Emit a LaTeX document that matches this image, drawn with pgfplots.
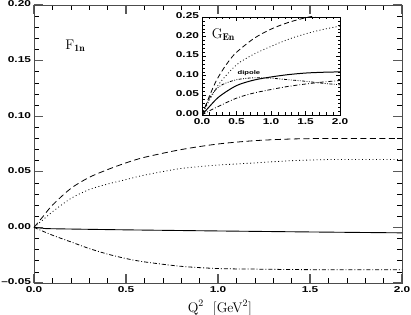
\documentclass[border=0pt]{standalone}
\usepackage{pgfplots}
\pgfplotsset{compat=1.18}
\usepackage{fontspec}
\newfontfamily\tickfont[FakeStretch=1.4]{Liberation Sans}
\begin{document}
\begin{tikzpicture}
\useasboundingbox (-34bp,-32bp) rectangle (377bp,283bp);
\begin{axis}[
  at={(0,0)}, anchor=south west,
  scale only axis, width=368bp, height=278bp,
  xmin=0, xmax=2, ymin=-0.05, ymax=0.2,
  xtick={0,0.5,...,2}, ytick={-0.05,0,...,0.2},
  minor x tick num=4, minor y tick num=4,
  tick align=inside, tick pos=both,
  major tick length=9bp, minor tick length=5bp,
  every major tick/.style={gray!70!black, line width=1.2pt},
  every minor tick/.style={black, line width=0.6pt},
  axis line style={line width=0.9pt, gray!60!black},
  ticklabel style={font=\tickfont\bfseries\fontsize{8.5}{9}\selectfont},
  yticklabel style={xshift=0.5bp, yshift=1bp},
  xticklabel style={yshift=-0.5bp},
  /pgf/number format/assume math mode=true,
  xticklabel style={/pgf/number format/.cd, fixed, fixed zerofill, precision=1},
  yticklabel style={/pgf/number format/.cd, fixed, fixed zerofill, precision=2},
  xticklabel={\pgfmathprintnumber{\tick}},
  yticklabel={\ifdim\tick pt<0pt \textendash\pgfmathparse{abs(\tick)}\pgfmathprintnumber{\pgfmathresult}\else\pgfmathprintnumber{\tick}\fi},
  xlabel={\fontsize{14}{15}\selectfont Q$^2$~~[GeV$^2$]},
  xlabel style={at={(axis description cs:0.505,0)}, anchor=base, yshift=-29bp},
  clip=true,
]
\addplot[black, line width=0.8pt, dash pattern=on 6bp off 3.5bp, smooth] coordinates {
(0,0) (0.05,0.010) (0.1,0.020) (0.2,0.035) (0.3,0.045) (0.4,0.052) (0.5,0.058) (0.6,0.063) (0.8,0.070) (1.0,0.075) (1.2,0.078) (1.4,0.0795) (1.6,0.080) (1.8,0.080) (2.0,0.080)};
\addplot[black, line width=0.8pt, dash pattern=on 0.9bp off 2.6bp, smooth] coordinates {
(0,0) (0.05,0.007) (0.1,0.014) (0.2,0.026) (0.3,0.034) (0.4,0.039) (0.5,0.043) (0.6,0.047) (0.8,0.053) (1.0,0.056) (1.2,0.058) (1.4,0.060) (1.6,0.061) (1.8,0.061) (2.0,0.061)};
\addplot[black, line width=0.9pt, smooth] coordinates {
(0,0) (0.05,-0.0008) (0.1,-0.0012) (0.5,-0.0022) (1.0,-0.0032) (1.5,-0.0041) (2.0,-0.0049)};
\addplot[black, line width=0.8pt, dash pattern=on 4bp off 2bp on 0.9bp off 2bp, smooth] coordinates {
(0,0) (0.1,-0.007) (0.2,-0.013) (0.3,-0.019) (0.4,-0.024) (0.5,-0.028) (0.6,-0.031) (0.8,-0.035) (1.0,-0.037) (1.2,-0.0375) (1.5,-0.038) (2.0,-0.038)};
\node[anchor=base west, inner sep=0pt] at (axis cs:0.17,0.160) {\fontsize{14}{15}\selectfont F$_{\mathbf{1n}}$};
\end{axis}
\begin{axis}[
  at={(168bp,168bp)}, anchor=south west,
  scale only axis, width=138bp, height=98bp,
  xmin=0, xmax=2, ymin=0, ymax=0.25,
  xtick={0,0.5,...,2}, ytick={0,0.05,...,0.25},
  minor x tick num=4, minor y tick num=4,
  tick align=inside, tick pos=both,
  major tick length=4bp, minor tick length=2.5bp,
  every major tick/.style={black, line width=0.6pt},
  every minor tick/.style={black, line width=0.5pt},
  axis line style={line width=0.9pt, black},
  axis background/.style={fill=white},
  ticklabel style={font=\tickfont\bfseries\fontsize{8.5}{9}\selectfont},
  yticklabel style={xshift=0.5bp, yshift=1.5bp},
  xticklabel style={yshift=-0.5bp},
  /pgf/number format/assume math mode=true,
  xticklabel style={/pgf/number format/.cd, fixed, fixed zerofill, precision=1},
  yticklabel style={/pgf/number format/.cd, fixed, fixed zerofill, precision=2},
  xticklabel={\pgfmathprintnumber{\tick}},
  yticklabel={\pgfmathprintnumber{\tick}},
  clip=true,
]
\addplot[black, line width=0.8pt, dash pattern=on 5bp off 3bp, smooth] coordinates {
(0,0) (0.1,0.045) (0.2,0.085) (0.3,0.115) (0.4,0.14) (0.5,0.16) (0.75,0.195) (1.0,0.219) (1.25,0.236) (1.5,0.248) (1.75,0.257) (2.0,0.263)};
\addplot[black, line width=0.8pt, dash pattern=on 0.9bp off 2.4bp, smooth] coordinates {
(0,0) (0.1,0.035) (0.25,0.08) (0.5,0.128) (0.75,0.155) (1.0,0.175) (1.25,0.193) (1.5,0.207) (1.75,0.218) (2.0,0.227)};
\addplot[black, line width=1pt, smooth] coordinates {
(0,0) (0.1,0.02) (0.25,0.047) (0.5,0.075) (0.75,0.089) (1.0,0.097) (1.25,0.103) (1.5,0.107) (1.75,0.109) (2.0,0.110)};
\addplot[black, line width=0.8pt, dash pattern=on 3bp off 1.5bp on 0.8bp off 1.5bp on 0.8bp off 1.5bp, smooth] coordinates {
(0,0) (0.1,0.04) (0.2,0.065) (0.3,0.078) (0.5,0.09) (0.75,0.095) (1.0,0.094) (1.25,0.09) (1.5,0.086) (1.75,0.081) (2.0,0.077)};
\addplot[black, line width=0.8pt, dash pattern=on 4bp off 2bp on 0.8bp off 2bp, smooth] coordinates {
(0,0) (0.1,0.01) (0.25,0.023) (0.5,0.043) (0.75,0.056) (1.0,0.065) (1.25,0.073) (1.5,0.079) (1.75,0.084) (2.0,0.088)};
\node[anchor=base west, inner sep=0pt] at (axis cs:0.14,0.196) {\fontsize{14}{15}\selectfont G$_{\mathbf{En}}$};
\node at (axis cs:0.68,0.108) {\tickfont\bfseries\fontsize{5.5}{6}\selectfont dipole};
\end{axis}
\end{tikzpicture}
\end{document}
